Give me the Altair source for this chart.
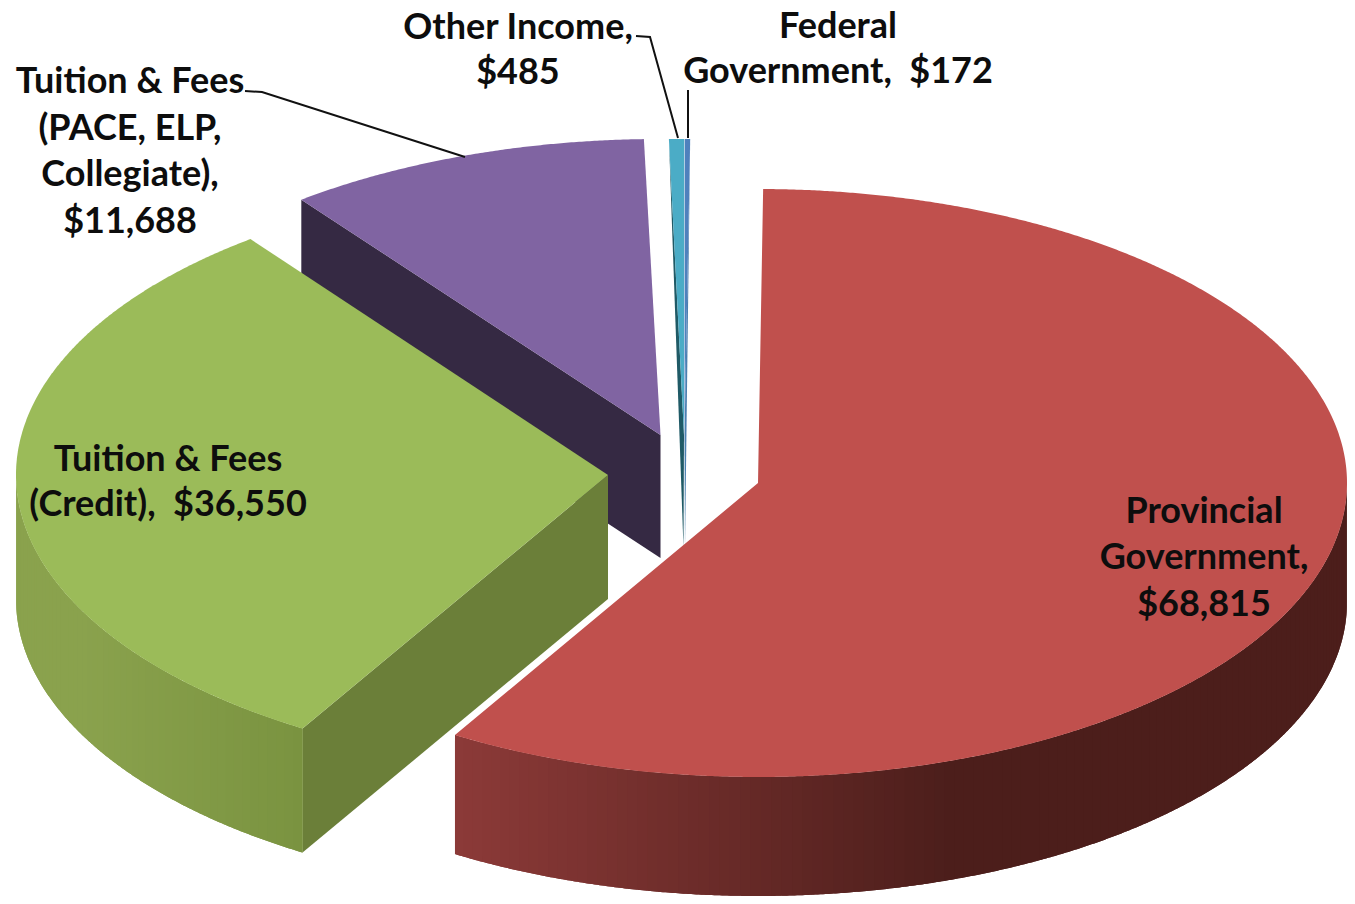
import math
import altair as alt

# ---- chart values ----
CATEGORIES = ["Provincial Government", "Tuition & Fees (Credit)",
              "Tuition & Fees (PACE, ELP, Collegiate)", "Other Income", "Federal Government"]
AMOUNTS = [68815, 36550, 11688, 485, 172]

LABEL_LINES = ["Other Income,", "$485", "Federal", "Government,\u00a0 $172",
               "Tuition & Fees", "(PACE, ELP,", "Collegiate),", "$11,688",
               "Tuition & Fees", "(Credit),\u00a0 $36,550",
               "Provincial", "Government,", "$68,815"]
LABEL_X = [518, 518, 838, 838, 130, 130, 130, 130, 168, 168, 1204, 1204, 1204]
LABEL_Y = [28, 73, 27, 72, 82, 129, 175, 222, 460, 505, 512, 558, 605]

# ---- styles / layout ----
RXS = [589, 592, 592, 592, 592]
RYS = [294, 296, 296, 296, 296]
DEPTHS = [119, 124, 123, 123, 123]
TOP_COL = ["#c0504d", "#9bbb59", "#8064a2", "#4bacc6", "#4f81bd"]
APEX = [(758, 483), (608, 475), (660.5, 435), (684, 435), (684.5, 435)]
ROTATE = [0.5, 0.6, 0.4, 0.55, 0.55]
M = 8


def lerp_col(a, b, f):
    f = max(0, min(1, f))
    ca = [int(a[i:i + 2], 16) for i in (1, 3, 5)]
    cb = [int(b[i:i + 2], 16) for i in (1, 3, 5)]
    return "#%02x%02x%02x" % tuple(round(x + (y - x) * f) for x, y in zip(ca, cb))


def pt(i, t, dy=0):
    r = math.radians(t)
    return [APEX[i][0] + RXS[i] * math.sin(r), APEX[i][1] - RYS[i] * math.cos(r) + dy]


def frange(a, b, step):
    n = max(1, int(abs(b - a) / step))
    return [a + (b - a) * i / n for i in range(n + 1)]


def poly(points, col):
    ring = [list(p) for p in points]
    ring.append(ring[0])
    return {"type": "Feature",
            "geometry": {"type": "Polygon", "coordinates": [ring]},
            "properties": {"fill": col}}


total = sum(AMOUNTS)
spans, acc = [], 0.0
for v, rot in zip(AMOUNTS, ROTATE):
    a = acc + rot
    acc += v / total * 360
    spans.append((a, acc + rot))

features = []


def top(i):
    a, b = spans[i]
    return poly([APEX[i]] + [pt(i, t) for t in frange(a, b, 0.25)], TOP_COL[i])


def rim(i, a, b, colf):
    # each strip runs on under the next one, so that no seam shows between them
    ts = frange(a, b, 1.0)
    for k in range(len(ts) - 1):
        end = ts[min(k + 2, len(ts) - 1)]
        arc = [pt(i, t) for t in frange(ts[k], end, 0.25)]
        low = [pt(i, t, DEPTHS[i]) for t in frange(end, ts[k], 0.25)]
        mid = pt(i, (ts[k] + ts[k + 1]) / 2)
        features.append(poly(arc + low, colf(mid[0])))


# purple: cut wall then top
a, b = spans[2]
c = pt(2, a)
features.append(poly([c, APEX[2], (APEX[2][0], APEX[2][1] + DEPTHS[2]), (c[0], c[1] + DEPTHS[2])], "#352943"))
features.append(top(2))

# thin slices: side walls then tops
o0 = pt(3, spans[3][0])
b1 = pt(4, spans[4][1])
features.append(poly([o0, (683.5, 548), APEX[3]], "#1f5a66"))
features.append(poly([b1, (685, 548), APEX[4]], "#4a7fb0"))
features.append(top(3))
features.append(top(4))

# red: outer rim then top
a, b = spans[0]
rim(0, 90, b, lambda x: lerp_col("#4c1e1b", "#8c3a38", (950 - x) / 495))
features.append(top(0))

# green: cut wall, outer rim, top
a, b = spans[1]
c = pt(1, a)
features.append(poly([APEX[1], c, (c[0], c[1] + DEPTHS[1]), (APEX[1][0], APEX[1][1] + DEPTHS[1])], "#6b7f39"))
rim(1, 270, a, lambda x: lerp_col("#7a9340", "#8aa24d", (c[0] - x) / 220))
features.append(top(1))

projection = dict(type="identity", scale=1, translate=[-M, -M])

shapes = alt.Chart(alt.Data(values=features)).mark_geoshape(strokeWidth=0).encode(
    fill=alt.Fill("properties.fill:N", scale=None),
).project(**projection)

LEADERS = [[[245, 91], [262, 92], [465, 157]],
           [[636, 36], [650, 37], [678, 138]],
           [[688, 90], [688, 138]]]
leader_features = [{"type": "Feature", "geometry": {"type": "LineString", "coordinates": l},
                    "properties": {}} for l in LEADERS]
leaders = alt.Chart(alt.Data(values=leader_features)).mark_geoshape(
    filled=False, stroke="#111111", strokeWidth=2).project(**projection)

text_rows = [{"t": t, "x": x - M, "y": y - M} for t, x, y in zip(LABEL_LINES, LABEL_X, LABEL_Y)]
labels = alt.Chart(alt.Data(values=text_rows)).mark_text(
    font="Lato", fontWeight="bold", fontSize=36, color="#0d0d0d", align="center", baseline="middle"
).encode(
    x=alt.X("x:Q", scale=None, axis=None),
    y=alt.Y("y:Q", scale=None, axis=None),
    text="t:N",
)

chart = alt.layer(shapes, leaders, labels).properties(
    width=1339, height=888, padding=0, background="white",
    autosize=alt.AutoSizeParams(type="none"),
).configure_view(stroke=None)

chart.save("out.html", embed_options={"renderer": "svg", "actions": False})
